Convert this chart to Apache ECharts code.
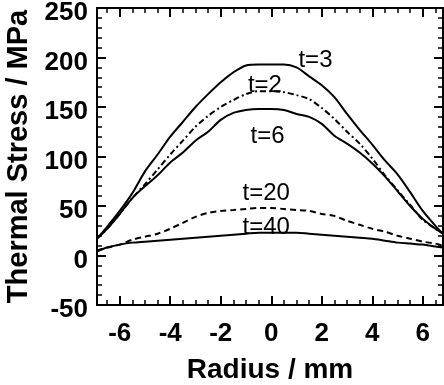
<!DOCTYPE html>
<html>
<head>
<meta charset="utf-8">
<script src="https://cdn.jsdelivr.net/npm/echarts@6/dist/echarts.min.js"></script>
<style>
html,body{margin:0;padding:0;background:#fff;}
#chart{width:444px;height:385px;}
</style>
</head>
<body>
<div id="chart"></div>
<script>
// Radius positions (mm)
var radius = [-6.9, -6.5, -6, -5.5, -5, -4.5, -4, -3.5, -3, -2.5, -2, -1.5, -1, -0.5, 0, 0.5, 1, 1.5, 2, 2.5, 3, 3.5, 4, 4.5, 5, 5.5, 6, 6.5, 6.8];
// Thermal stress (MPa) for each time
var t2  = [17, 27, 42, 58, 72, 87, 102, 116, 130, 141, 150, 157, 163, 166, 166, 165, 162, 158, 149, 138, 125, 113, 98, 81, 66, 51, 36, 27, 22];
var t3  = [17, 29, 45, 63, 85, 102, 120, 135, 150, 163, 175, 185, 192, 193, 193, 193, 190, 181, 172, 160, 143, 127, 112, 96, 82, 64, 45, 30, 22];
var t6  = [17, 27, 42, 58, 70, 81, 94, 104, 116, 125, 137, 144, 147, 148, 148, 147, 143, 140, 133, 121, 113, 104, 93, 80, 65, 50, 37, 27, 22];
var t20 = [5, 8, 11, 16, 19, 22, 27, 33, 39, 43, 45, 46, 47, 48, 48, 47, 46, 45, 42, 40, 35, 31, 27, 24, 20, 17, 14, 12, 10];
var t40 = [4, 8, 11, 13, 14, 15, 16, 17, 18, 19, 20, 21, 22, 23, 23, 23, 23, 22, 21, 20, 19, 18, 17, 15, 13, 12, 11, 9, 8];

// Tick values
var xLabels = [-6, -4, -2, 0, 2, 4, 6];
var xMinorTicks = [-6.5, -6, -5.5, -5, -4.5, -4, -3.5, -3, -2.5, -2, -1.5, -1, -0.5, 0, 0.5, 1, 1.5, 2, 2.5, 3, 3.5, 4, 4.5, 5, 5.5, 6, 6.5];
var yTicks = [-50, 0, 50, 100, 150, 200, 250];

// Curve annotations [radius, stress, text]
var annotations = [
  [1.75, 197, 't=3'],
  [-0.25, 172, 't=2'],
  [-0.15, 120, 't=6'],
  [-0.2, 63, 't=20'],
  [-0.2, 28, 't=40']
];

function pairs(ys) { return radius.map(function (r, i) { return [r, ys[i]]; }); }

var FONT = '"Liberation Sans", Arial, Helvetica, sans-serif';
var xMin = -6.9, xMax = 6.8;

function xAxisDef(pos, major, showLine, showLabel) {
  return {
    type: 'value', position: pos, min: xMin, max: xMax,
    splitLine: { show: false },
    axisLine: { show: showLine, onZero: false, lineStyle: { color: '#000', width: 2 } },
    axisTick: { show: true, inside: true, length: major ? 9 : 5, customValues: major ? xLabels : xMinorTicks,
      lineStyle: { color: '#000', width: major ? 2 : 1.5 } },
    axisLabel: { show: showLabel, customValues: xLabels, margin: 16, color: '#000',
      fontFamily: FONT, fontSize: 26, fontWeight: 'bold' },
    name: showLabel ? 'Radius / mm' : '',
    nameLocation: 'middle', nameGap: 51,
    nameTextStyle: { color: '#000', fontFamily: FONT, fontSize: 28, fontWeight: 'bold' }
  };
}
function yAxisDef(pos, showLabel) {
  return {
    type: 'value', position: pos, min: -50, max: 250, interval: 50,
    splitLine: { show: false },
    axisLine: { show: true, onZero: false, lineStyle: { color: '#000', width: 2 } },
    axisTick: { show: true, inside: true, length: 9, lineStyle: { color: '#000', width: 2 } },
    minorTick: { show: true, splitNumber: 5, length: 5, lineStyle: { color: '#000', width: 1.5 } },
    axisLabel: { show: showLabel, margin: 9, color: '#000', verticalAlign: 'top', lineHeight: 10,
      fontFamily: FONT, fontSize: 26, fontWeight: 'bold' },
    name: showLabel ? 'Thermal Stress / MPa' : '',
    nameLocation: 'middle', nameGap: 56,
    nameTextStyle: { color: '#000', fontFamily: FONT, fontSize: 29, fontWeight: 'bold' }
  };
}

function lineSeries(name, ys, dash) {
  return {
    name: name, type: 'line', data: pairs(ys), showSymbol: false, smooth: 0.3,
    xAxisIndex: 0, yAxisIndex: 0,
    lineStyle: { color: '#000', width: 2, type: dash || 'solid' },
    z: 3
  };
}

var chart = echarts.init(document.getElementById('chart'), null, { renderer: 'canvas' });
chart.setOption({
  animation: false,
  backgroundColor: '#fff',
  grid: { left: 97, right: 1, top: 8, bottom: 80, containLabel: false, outerBoundsMode: 'none' },
  xAxis: [
    xAxisDef('bottom', false, true, true),
    xAxisDef('bottom', true, false, false),
    xAxisDef('top', false, true, false),
    xAxisDef('top', true, false, false)
  ],
  yAxis: [
    yAxisDef('left', true),
    yAxisDef('right', false)
  ],
  series: [
    lineSeries('t=3', t3),
    lineSeries('t=2', t2, [6, 3, 2, 3]),
    lineSeries('t=6', t6),
    lineSeries('t=20', t20, [6, 4]),
    lineSeries('t=40', t40),
    {
      type: 'scatter', xAxisIndex: 0, yAxisIndex: 0, symbolSize: 0, z: 5,
      itemStyle: { opacity: 1 },
      data: annotations,
      label: { show: true, position: 'inside', color: '#000', opacity: 1, fontFamily: FONT, fontSize: 24,
        formatter: function (p) { return p.value[2]; } }
    }
  ]
});
</script>
</body>
</html>
